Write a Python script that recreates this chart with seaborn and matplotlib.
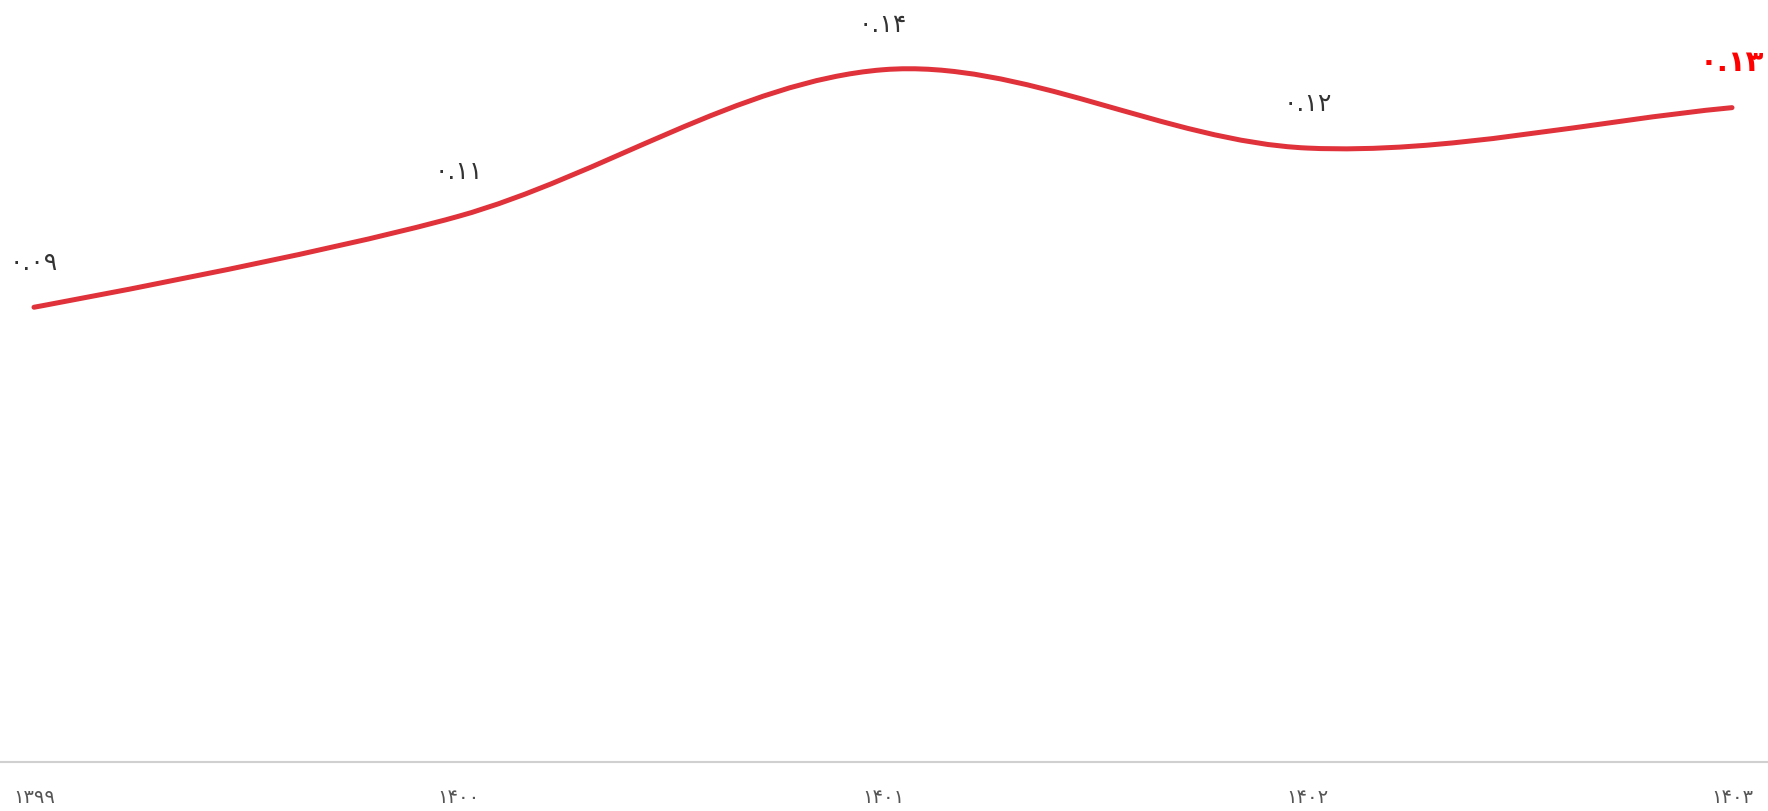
import numpy as np
import matplotlib
matplotlib.use("Agg")
import matplotlib.pyplot as plt
import seaborn as sns
from matplotlib.path import Path
from matplotlib.patches import PathPatch

# data
years = ["۱۳۹۹", "۱۴۰۰", "۱۴۰۱", "۱۴۰۲", "۱۴۰۳"]
values = [0.090, 0.108, 0.137, 0.1215, 0.1295]
line_color = "#e0323a"
last_color = "#ff0000"

FA_DIGITS = str.maketrans("0123456789", "۰۱۲۳۴۵۶۷۸۹")


def fa(num):
    return f"{num:.2f}".translate(FA_DIGITS)


def smooth_path(xs, ys, smooth=0.33, sx=424.5, sy=5056.0):
    # bezier control points from neighbours (echarts-like smoothing)
    pts = np.column_stack([xs, ys]).astype(float)
    scale = np.array([sx, sy])
    n = len(pts)
    verts = [pts[0]]
    codes = [Path.MOVETO]
    cp0 = pts[0]
    for i in range(1, n):
        p = pts[i]
        prev = pts[i - 1]
        nxt = pts[i + 1] if i < n - 1 else p
        v = nxt - prev
        l0 = np.hypot(*((p - prev) * scale))
        l1 = np.hypot(*((nxt - p) * scale))
        r = l1 / (l0 + l1)
        cp1 = p - v * smooth * (1 - r)
        verts += [cp0, cp1, p]
        codes += [Path.CURVE4] * 3
        cp0 = p + v * smooth * r
    return Path(verts, codes)


sns.set_theme(style="white")
plt.rcParams["font.family"] = ["DejaVu Sans"]

fig = plt.figure(figsize=(17.68, 8.11), dpi=100)
ax = fig.add_axes([0, 0.0604, 1, 0.9346])

x = np.arange(len(years))
ax.add_patch(PathPatch(smooth_path(x, values), fill=False, edgecolor=line_color,
                       lw=3.6, capstyle="round", joinstyle="round"))

ax.set_xlim(-0.0801, 4.0848)
ax.set_ylim(0, 0.15)

for i, v in enumerate(values):
    last = i == len(values) - 1
    ax.annotate(fa(v), (x[i], v), xytext=(0, 32), textcoords="offset points",
                ha="center", va="center",
                fontsize=21 if last else 18,
                fontweight="bold" if last else "normal",
                color=last_color if last else "#333333")

ax.set_xticks(x)
ax.set_xticklabels(years, fontsize=14, color="#555555")
ax.tick_params(axis="x", length=0, pad=19)
ax.set_yticks([])
sns.despine(ax=ax, left=True)
ax.spines["bottom"].set_color("#d0d0d0")
ax.spines["bottom"].set_linewidth(1.5)

fig.savefig("out.png", dpi=100)
